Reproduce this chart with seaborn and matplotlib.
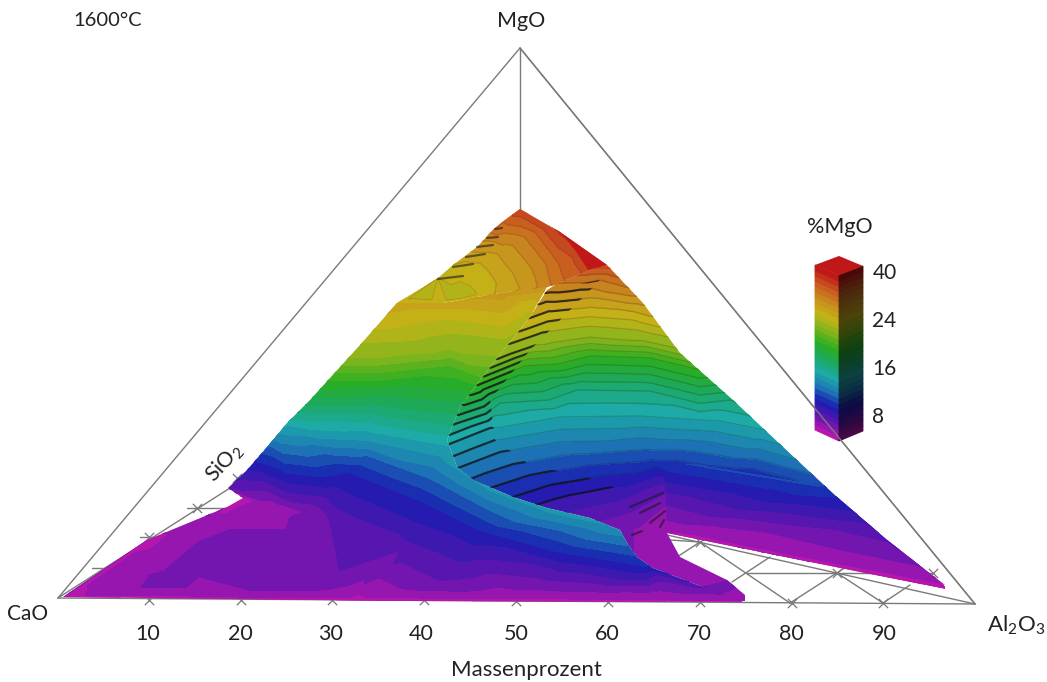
import numpy as np
import pandas as pd
import matplotlib
matplotlib.use("Agg")
import matplotlib.pyplot as plt
import matplotlib.tri as mtri
from matplotlib.patches import Polygon
from matplotlib.colors import to_rgb
import seaborn as sns

sns.set_theme(style="white")
plt.rcParams['font.family'] = ['Lato', 'DejaVu Sans']
plt.rcParams['mathtext.fontset'] = 'custom'
plt.rcParams['mathtext.rm'] = 'Lato'

# Dreieck und Raster
edge_x = [[520, 58], [520, 975], [520, 520], [58, 975], [58, 230], [975, 667],
          [670, 700], [700, 790], [747, 933], [837, 883], [790, 860], [883, 910],
          [732, 770], [677, 700], [187, 227], [140, 157], [92, 105]]
edge_y = [[48, 598], [48, 604], [48, 209], [598, 604], [598, 488], [604, 535],
          [540, 542], [542, 603], [573, 573], [573, 603], [603, 558], [603, 585],
          [582, 557], [557, 542], [508, 508], [537, 537], [568, 568]]

tick_pct = [10, 20, 30, 40, 50, 60, 70, 80, 90]
tick_px = [149, 241, 332, 424, 516, 608, 700, 792, 883]
tick_py = [600, 600, 600, 600, 601, 602, 602, 603, 603]
label_px = [148, 240, 331, 421, 516, 607, 699, 791, 884]
cross_x = [197, 149, 237, 700, 837, 933]
cross_y = [508, 537, 478, 542, 573, 573]

# Farbskala der Legende
bar_ticks = ['40', '24', '16', '8']
bar_tick_x = [885, 884, 884, 878]
bar_tick_y = [273, 321, 369, 417]

band_levels = [3, 5, 6, 7, 8, 9, 10, 11, 12, 13, 14, 15, 16, 17, 18, 19, 20, 21, 22, 23, 24,
               26, 28, 30, 32, 34, 36, 38, 40, 42, 44, 50]
stop_colors = ['#B416AE', '#5C16B0', '#1A1CB0', '#1C78B4', '#1EAAA8', '#1CA860',
               '#2AAE22', '#7CB41C', '#C4B418', '#C88E1E', '#C85A20', '#C01818']

# rechte Flaeche mit der Mulde
bowl_x = [585, 612,
          562, 600, 630,
          545, 590, 640,
          525, 550, 590, 630, 655,
          505, 540, 590, 640, 672,
          478, 525, 590, 650, 700,
          452, 500, 577, 650, 730,
          447, 490, 560, 640, 700, 765,
          458, 500, 560, 640, 710, 797,
          480, 520, 580, 650, 730, 817,
          513, 550, 600, 665, 750, 837,
          550, 580, 620, 665,
          600, 630, 665,
          640, 665,
          670, 727, 745,
          612, 650, 690, 725, 770, 820, 860, 900, 960,
          500, 510, 480, 470, 430, 425, 460, 560, 640, 690, 720]
bowl_y = [268, 268,
          283, 280, 288,
          297, 293, 300,
          325, 316, 312, 315, 322,
          350, 338, 331, 335, 342,
          385, 366, 356, 358, 370,
          425, 403, 390, 391, 400,
          445, 428, 417, 416, 420, 430,
          468, 452, 442, 438, 442, 460,
          483, 470, 460, 455, 463, 480,
          497, 485, 476, 470, 478, 497,
          508, 500, 492, 487,
          520, 512, 505,
          530, 525,
          550, 582, 600,
          255, 290, 330, 370, 415, 470, 505, 540, 595,
          290, 320, 360, 340, 400, 450, 500, 530, 560, 590, 605]
bowl_mgo = [40, 40,
            36, 36, 36,
            33, 33, 33,
            29, 29, 29, 29, 29,
            25, 25, 25, 25, 25,
            21, 21, 21, 21, 21,
            17, 17, 17, 17, 17,
            15, 15, 15, 15, 15, 15,
            13, 13, 13, 13, 13, 13,
            11.5, 11.5, 11.5, 11.5, 11.5, 11.5,
            10, 10, 10, 10, 10, 10,
            8.5, 8.5, 8.5, 7.5,
            7, 7, 6,
            5.8, 5.3,
            5.8, 5.3, 5,
            42, 34, 26, 21, 17, 13, 10, 8, 5,
            36, 30, 24, 25, 19, 14, 11, 7, 5.8, 5.3, 5]
bowl_outline_x = [607, 590, 555, 547, 530, 493, 460, 447, 457, 473, 513, 547, 590, 620, 627, 637,
                  653, 703, 730, 745, 745, 727, 680, 667, 800, 945, 887, 837, 797, 733, 680, 643]
bowl_outline_y = [265, 270, 285, 290, 317, 363, 407, 440, 467, 480, 497, 508, 518, 530, 543, 557,
                  568, 587, 601, 601, 595, 580, 557, 533, 560, 585, 540, 497, 460, 400, 353, 303]

# rechter Fluegel
wing_x = [665, 825, 665, 837, 665, 860, 665, 872, 667, 905, 667, 930, 667, 945]
wing_y = [460, 487, 470, 497, 487, 517, 497, 528, 512, 555, 527, 575, 535, 588]
wing_mgo = [11, 11, 10, 10, 8.5, 8.5, 7.5, 7.5, 6.5, 6.5, 5.5, 5.5, 4.6, 4.6]
wing_outline_x = [665, 720, 790, 837, 887, 945, 945, 667]
wing_outline_y = [465, 462, 470, 497, 540, 585, 589, 533]

# linke Flaeche, vorne
left_x = [398, 443, 500, 547,
          380, 450, 527,
          370, 450, 525,
          355, 450, 505,
          335, 450, 482,
          312, 380, 465,
          297, 380, 452,
          288, 367, 447,
          280, 367, 447, 490, 550, 610,
          270, 367, 430, 490, 560, 625,
          255, 350, 420, 480, 560, 645,
          243, 330, 400, 470, 560, 680,
          232, 290, 345, 410, 470, 550, 660,
          330, 400, 340, 255, 440, 550, 670,
          250, 323, 307, 308, 300, 197, 170, 300, 450, 600, 700,
          305, 230, 150, 250,
          273, 200, 120, 200, 350, 500, 650, 730,
          63, 147, 227, 243, 200, 350, 500, 650, 745,
          545, 510, 480, 455]
left_y = [303, 303, 293, 287,
          322, 313, 303,
          335, 325, 320,
          350, 340, 345,
          372, 365, 377,
          397, 395, 400,
          412, 415, 425,
          425, 430, 445,
          433, 440, 462, 490, 512, 525,
          445, 455, 478, 510, 530, 545,
          460, 472, 500, 530, 552, 566,
          473, 492, 525, 552, 566, 578,
          485, 497, 522, 553, 570, 572, 576,
          520, 550, 570, 578, 580, 580, 582,
          495, 517, 530, 543, 555, 560, 583, 586, 587, 588, 590,
          512, 530, 575, 590,
          505, 525, 570, 592, 593, 594, 595, 597,
          598, 540, 507, 498, 599, 600, 601, 602, 603,
          315, 362, 405, 440]
left_mgo = [31, 31, 33, 33,
            29, 29, 29,
            27, 27, 27,
            25, 25, 25,
            22, 22, 22,
            19, 19, 19,
            17, 17, 17,
            15, 15, 15,
            14, 14, 14, 14, 14, 14,
            12, 12, 12, 12, 12, 12,
            10, 10, 10, 10, 10, 10,
            8.5, 8.5, 8.5, 8.5, 8.5, 8.5,
            7.5, 7.5, 7.5, 7.5, 7.5, 7.5, 7.5,
            7, 7, 7, 7, 7, 7, 7,
            6.5, 6.5, 6.5, 6.5, 6.5, 6.5, 6.5, 6.5, 6.5, 6.5, 6.5,
            6, 6, 6, 6,
            5.5, 5.5, 5.5, 5.5, 5.5, 5.5, 5.5, 5.5,
            4.6, 4.6, 4.6, 4.6, 4.6, 4.6, 4.6, 4.6, 4.6,
            28, 24, 19, 15]
left_outline_x = [397, 443, 500, 547, 530, 493, 460, 447, 457, 473, 513, 547, 590, 620, 627, 637, 653, 703,
                  727, 745, 742, 400, 63, 147, 227, 243, 228, 247, 267, 287, 310, 360]
left_outline_y = [303, 303, 293, 287, 317, 363, 407, 440, 467, 480, 497, 508, 518, 530, 543, 557, 568, 587,
                  580, 595, 602, 601, 597, 540, 507, 498, 488, 470, 447, 423, 400, 345]

# obere Kappe
cap_x = [520, 505, 493, 477, 453, 438, 397,
         420, 450, 470,
         450, 470, 483, 490,
         462, 490, 503, 510,
         477, 505, 522, 530,
         488, 520, 540, 545,
         503, 535, 558, 565,
         520, 548, 580, 590,
         500, 443, 397, 562, 610]
cap_y = [209, 220, 230, 247, 265, 278, 303,
         295, 295, 295,
         265, 268, 280, 292,
         255, 258, 275, 290,
         245, 250, 270, 288,
         235, 240, 265, 287,
         222, 232, 262, 282,
         212, 228, 255, 268,
         295, 305, 305, 228, 262]
cap_mgo = [41, 39, 37, 33, 30, 28, 29,
           27, 27, 27.5,
           29, 29, 29, 29,
           31, 31, 31, 31,
           33, 33, 33, 33,
           35, 35, 35, 35,
           38, 38, 38, 38,
           41, 41, 41, 41,
           31, 29, 30, 43, 43]
cap_outline_x = [520, 560, 607, 590, 555, 547, 500, 443, 397, 438, 453, 477, 493, 505]
cap_outline_y = [209, 232, 265, 270, 285, 287, 293, 303, 303, 278, 265, 247, 230, 220]

red_x = [560, 607, 588, 575]
red_y = [232, 265, 270, 250]

# dunkle Striche
shadow_x = [547, 530, 493, 460, 447, 457, 473, 513, 560, 620, 590, 530, 495, 490, 530, 570, 600]
shadow_y = [290, 317, 363, 407, 440, 467, 480, 497, 512, 490, 478, 465, 440, 400, 350, 310, 280]
strokes_x = [[630, 663], [640, 660], [650, 665], [660, 664], [632, 642], [438, 463], [453, 473],
             [466, 485], [477, 493], [487, 498], [495, 502]]
strokes_y = [[507, 493], [513, 503], [523, 511], [527, 520], [535, 531], [279, 276], [267, 264],
             [257, 254], [247, 245], [238, 237], [229, 228]]


def sheet(ax, xs, ys, zs, outline_x, outline_y, order):
    # eine Flaeche als gestufte Hoehenlinien, auf ihren Umriss beschnitten
    tri = mtri.Triangulation(xs, ys)
    cs = ax.tricontourf(tri, zs, levels=band_levels, colors=band_colors, zorder=order, extend='neither')
    clip = Polygon(np.column_stack([outline_x, outline_y]), closed=True, transform=ax.transData)
    cs.set_clip_path(clip)
    cs.set_edgecolor('face')
    cs.set_linewidth(0.6)
    return tri


band_colors = sns.blend_palette(stop_colors, n_colors=len(band_levels) - 1)

fig, ax = plt.subplots(figsize=(10.47, 6.82), dpi=100)
fig.subplots_adjust(left=0, right=1, top=1, bottom=0)

# Linien und Markierungen liegen unter den Flaechen
line_df = pd.DataFrame({
    'x': np.concatenate(edge_x),
    'y': np.concatenate(edge_y),
    'seg': np.repeat(np.arange(len(edge_x)), 2),
})
sns.lineplot(data=line_df, x='x', y='y', units='seg', estimator=None, sort=False,
             color='#7a7a7a', linewidth=1.0, ax=ax, zorder=1.5, legend=False)
# die Dreieckskante rechts laeuft sichtbar ueber die Saeule
ax.plot(edge_x[1], edge_y[1], color='#7a7a7a', lw=1.0, zorder=7)
sns.scatterplot(x=tick_px, y=tick_py, marker='x', color='#777777', s=45, linewidth=0.9, ax=ax, zorder=1)
sns.scatterplot(x=cross_x, y=cross_y, marker='x', color='#777777', s=45, linewidth=0.9, ax=ax, zorder=1)

bowl_tri = sheet(ax, bowl_x, bowl_y, bowl_mgo, bowl_outline_x, bowl_outline_y, 2)
sheet(ax, wing_x, wing_y, wing_mgo, wing_outline_x, wing_outline_y, 3)
sheet(ax, left_x, left_y, left_mgo, left_outline_x, left_outline_y, 4)
cap_tri = sheet(ax, cap_x, cap_y, cap_mgo, cap_outline_x, cap_outline_y, 5)
ax.fill(red_x, red_y, color=band_colors[-1], linewidth=0, zorder=5.5)

# Schatten in der Mulde
shadow_clip = Polygon(np.column_stack([shadow_x, shadow_y]), closed=True, transform=ax.transData)
lines = ax.tricontour(bowl_tri, bowl_mgo, levels=band_levels[2:28], colors='#101018', linewidths=1.6,
                      alpha=0.75, zorder=2.5)
lines.set_clip_path(shadow_clip)
bowl_clip = Polygon(np.column_stack([bowl_outline_x, bowl_outline_y]), closed=True, transform=ax.transData)
faint = ax.tricontour(bowl_tri, bowl_mgo, levels=band_levels[6:28], colors='#101018', linewidths=1.0,
                      alpha=0.18, zorder=2.4)
faint.set_clip_path(bowl_clip)
cap_clip = Polygon(np.column_stack([cap_outline_x, cap_outline_y]), closed=True, transform=ax.transData)
arcs = ax.tricontour(cap_tri, cap_mgo, levels=band_levels[22:30], colors='#5a3a10', linewidths=0.8,
                     alpha=0.2, zorder=5.2)
arcs.set_clip_path(cap_clip)
for sx, sy in zip(strokes_x, strokes_y):
    ax.plot(sx, sy, color='#1a1a20', lw=1.6, alpha=0.6, zorder=5.6, solid_capstyle='round')

# Saeule der Legende
bar_edges = np.linspace(430, 265, len(band_colors) + 1)
for i, c in enumerate(band_colors):
    y0, y1 = bar_edges[i], bar_edges[i + 1]
    ax.fill([815, 839, 839, 815], [y0, y0 + 11, y1 + 10, y1], color=c, linewidth=0.6, zorder=6)
    dark = tuple(0.38 * v for v in to_rgb(c))
    ax.fill([839, 863, 863, 839], [y0 + 11, y0 + 1, y1 + 1, y1 + 10], color=dark, linewidth=0.6, zorder=6)
ax.fill([815, 839, 863, 839], [265, 256, 266, 275], color=band_colors[-1], linewidth=0, zorder=6.2)

# Beschriftung
text_color = '#222222'
for pct, xp in zip(tick_pct, label_px):
    ax.text(xp, 634, str(pct), ha='center', va='center', fontsize=15.5, color=text_color)
ax.text(526, 670, 'Massenprozent', ha='center', va='center', fontsize=16, color=text_color)
ax.text(108, 20, '1600°C', ha='center', va='center', fontsize=14.5, color=text_color)
ax.text(521, 21, 'MgO', ha='center', va='center', fontsize=15.5, color=text_color)
ax.text(28, 614, 'CaO', ha='center', va='center', fontsize=15, color=text_color)
ax.text(1016, 625, r'Al$_2$O$_3$', ha='center', va='center', fontsize=16, color=text_color)
ax.text(224, 463, r'SiO$_2$', ha='center', va='center', fontsize=15.5, rotation=47, color=text_color)
ax.text(840, 227, '%MgO', ha='center', va='center', fontsize=15.5, color=text_color)
for lab, xp, yp in zip(bar_ticks, bar_tick_x, bar_tick_y):
    ax.text(xp, yp, lab, ha='center', va='center', fontsize=15, color=text_color)

ax.set_xlim(0, 1047)
ax.set_ylim(682, 0)
ax.set_xlabel('')
ax.set_ylabel('')
ax.axis('off')
fig.savefig('out.png', dpi=100, facecolor='white')
